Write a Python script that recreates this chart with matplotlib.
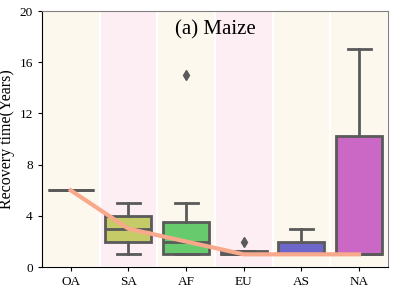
import matplotlib
matplotlib.use("Agg")
import matplotlib.pyplot as plt
import seaborn as sns

regions = ["OA", "SA", "AF", "EU", "AS", "NA"]
whislo = [6, 1, 1, 1, 1, 1]
q1 = [6, 2, 1, 1, 1, 1]
med = [6, 3, 2, 1, 1, 1]
q3 = [6, 4, 3.5, 1.25, 2, 10.25]
whishi = [6, 5, 5, 1.25, 3, 17]
fliers = [[], [], [15], [2], [], []]
band_colours = ["#fdf8ee", "#fdeef4", "#fdf8ee", "#fdeef4", "#fdf8ee", "#fdf8ee"]

plt.rcParams["font.family"] = ["Liberation Serif", "DejaVu Serif"]

fig = plt.figure(figsize=(3.95, 3.06), dpi=100)
ax = fig.add_axes([0.106, 0.127, 0.876, 0.837])

for i, c in enumerate(band_colours):
    ax.axvspan(i - 0.5, i + 0.5, facecolor=c, edgecolor="white", linewidth=1.5, zorder=0)

pal = sns.color_palette("hls", 6, desat=0.75)
grey = "#5a5a5a"
stats = []
for i in range(len(regions)):
    stats.append({"med": med[i], "q1": q1[i], "q3": q3[i],
                  "whislo": whislo[i], "whishi": whishi[i], "fliers": fliers[i]})

bp = ax.bxp(stats, positions=range(len(regions)), widths=0.8, patch_artist=True,
            boxprops=dict(edgecolor=grey, linewidth=2),
            medianprops=dict(color=grey, linewidth=2),
            whiskerprops=dict(color=grey, linewidth=2),
            capprops=dict(color=grey, linewidth=2),
            flierprops=dict(marker="d", markerfacecolor=grey, markeredgecolor=grey, markersize=5))
for patch, c in zip(bp["boxes"], pal):
    patch.set_facecolor(c)
    patch.set_zorder(2)

ax.plot(range(len(regions)), med, color="#f8a98b", linewidth=3, zorder=3)

ax.set_xlim(-0.5, 5.5)
ax.set_ylim(0, 20)
ax.set_yticks([0, 4, 8, 12, 16, 20])
ax.set_xticks(range(len(regions)))
ax.set_xticklabels(regions)
ax.tick_params(labelsize=9.5, length=3, width=0.8)
ax.set_ylabel("Recovery time(Years)", fontsize=11.5, labelpad=3)
ax.text(0.5, 0.925, "(a) Maize", transform=ax.transAxes, ha="center", va="center", fontsize=15)

ax.spines["top"].set_color("#808080")
ax.spines["right"].set_color("#808080")

fig.savefig("out.png", dpi=100)
